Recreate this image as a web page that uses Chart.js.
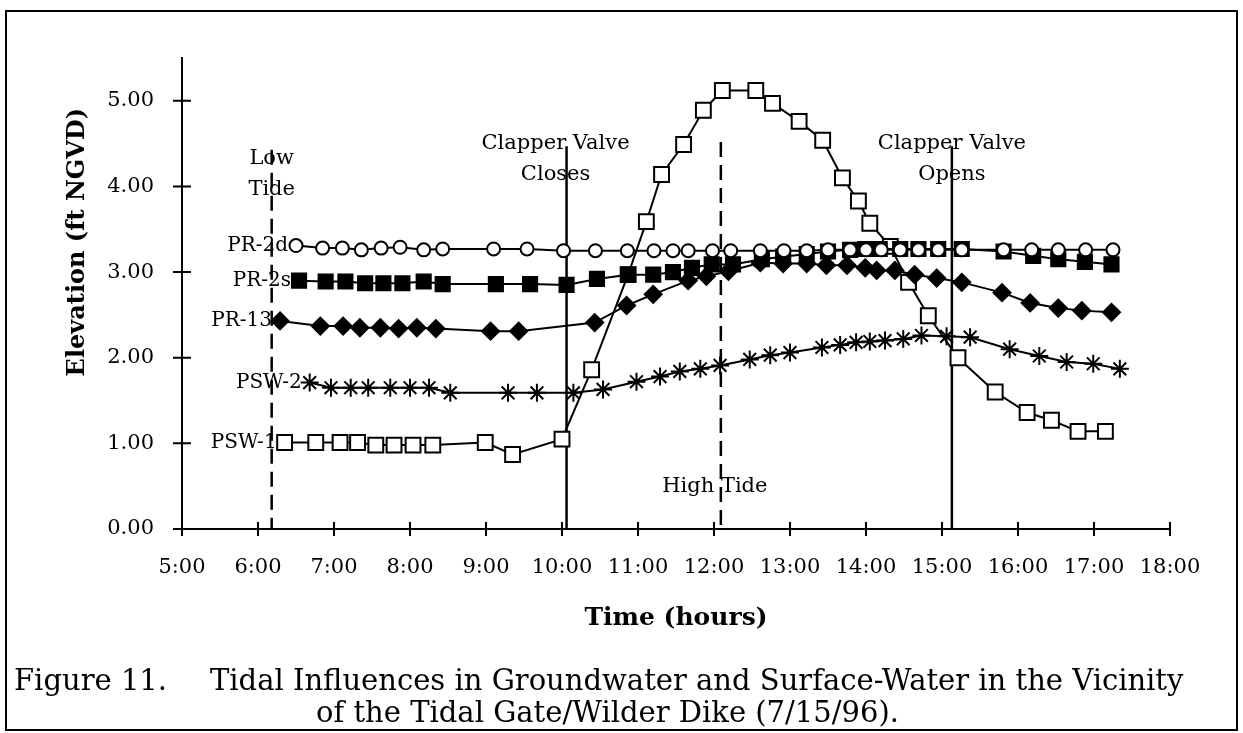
<!DOCTYPE html>
<html>
<head>
<meta charset="utf-8">
<script src="https://cdn.jsdelivr.net/npm/chart.js@4/dist/chart.umd.min.js"></script>
<style>
    html, body { margin: 0; padding: 0; background: #fff; }
    #wrap { position: relative; width: 1243px; height: 733px; overflow: hidden; }
    #frame { position: absolute; left: 5px; top: 10px; width: 1233px; height: 721px; border: 2px solid #000; box-sizing: border-box; }
    #chart { position: absolute; left: 0; top: 0; }
    .cap { position: absolute; font-family: "DejaVu Serif"; font-size: 29px; line-height: 34px; color: #000; white-space: nowrap; }
</style>
</head>
<body>
<div id="wrap">
    <div id="frame"></div>
    <canvas id="chart" width="1243" height="733"></canvas>
    <div class="cap" style="left:14px; top:663px;">Figure 11.</div>
    <div class="cap" style="left:210px; top:663px;">Tidal Influences in Groundwater and Surface-Water in the Vicinity</div>
    <div class="cap" style="left:0; width:1215px; text-align:center; top:695px;">of the Tidal Gate/Wilder Dike (7/15/96).</div>
</div>
<script>
// Write your Javascript code.
// times are decimal hours, elevations in ft NGVD
var pr2dTimes = [6.50, 6.85, 7.11, 7.36, 7.62, 7.87, 8.18, 8.43, 9.10, 9.54, 10.02, 10.44, 10.86, 11.21, 11.46, 11.66, 11.98, 12.22, 12.61, 12.92, 13.22, 13.50, 13.79, 14.00, 14.20, 14.45, 14.69, 14.95, 15.26, 15.81, 16.18, 16.53, 16.89, 17.25];
var pr2dElev = [3.31, 3.28, 3.28, 3.26, 3.28, 3.29, 3.26, 3.27, 3.27, 3.27, 3.25, 3.25, 3.25, 3.25, 3.25, 3.25, 3.25, 3.25, 3.25, 3.25, 3.25, 3.26, 3.26, 3.26, 3.26, 3.26, 3.26, 3.26, 3.26, 3.26, 3.26, 3.26, 3.26, 3.26];

var pr2sTimes = [6.54, 6.89, 7.15, 7.41, 7.65, 7.90, 8.18, 8.43, 9.13, 9.58, 10.06, 10.46, 10.87, 11.20, 11.46, 11.71, 11.97, 12.25, 12.63, 12.91, 13.22, 13.50, 13.79, 13.99, 14.18, 14.45, 14.69, 14.95, 15.26, 15.81, 16.20, 16.53, 16.88, 17.23];
var pr2sElev = [2.90, 2.89, 2.89, 2.87, 2.87, 2.87, 2.89, 2.86, 2.86, 2.86, 2.85, 2.92, 2.97, 2.97, 3.00, 3.05, 3.09, 3.09, 3.15, 3.18, 3.21, 3.24, 3.26, 3.27, 3.27, 3.27, 3.27, 3.27, 3.27, 3.24, 3.19, 3.15, 3.12, 3.09];

var pr13Times = [6.29, 6.82, 7.12, 7.34, 7.61, 7.85, 8.09, 8.34, 9.06, 9.43, 10.43, 10.85, 11.20, 11.66, 11.90, 12.19, 12.61, 12.91, 13.22, 13.48, 13.75, 13.99, 14.14, 14.38, 14.64, 14.93, 15.26, 15.79, 16.16, 16.53, 16.84, 17.23];
var pr13Elev = [2.43, 2.37, 2.37, 2.35, 2.35, 2.34, 2.35, 2.34, 2.31, 2.31, 2.41, 2.61, 2.74, 2.90, 2.95, 3.01, 3.11, 3.10, 3.10, 3.08, 3.08, 3.05, 3.02, 3.02, 2.97, 2.93, 2.88, 2.76, 2.64, 2.58, 2.55, 2.53];

var psw2Times = [6.68, 6.96, 7.22, 7.45, 7.74, 8.00, 8.25, 8.53, 9.29, 9.67, 10.15, 10.54, 10.98, 11.29, 11.55, 11.82, 12.08, 12.47, 12.74, 13.00, 13.42, 13.66, 13.87, 14.05, 14.25, 14.49, 14.73, 15.06, 15.37, 15.89, 16.28, 16.64, 16.99, 17.34];
var psw2Elev = [1.71, 1.65, 1.65, 1.65, 1.65, 1.65, 1.65, 1.59, 1.59, 1.59, 1.59, 1.63, 1.72, 1.78, 1.84, 1.87, 1.91, 1.98, 2.03, 2.06, 2.12, 2.15, 2.18, 2.19, 2.20, 2.22, 2.26, 2.25, 2.24, 2.10, 2.02, 1.95, 1.93, 1.87];

var psw1Times = [6.35, 6.76, 7.08, 7.31, 7.55, 7.79, 8.04, 8.30, 8.99, 9.35, 10.00, 10.39, 10.87, 11.11, 11.31, 11.60, 11.86, 12.11, 12.55, 12.77, 13.12, 13.43, 13.69, 13.90, 14.05, 14.32, 14.56, 14.82, 15.21, 15.70, 16.12, 16.44, 16.79, 17.15];
var psw1Elev = [1.01, 1.01, 1.01, 1.01, 0.98, 0.98, 0.98, 0.98, 1.01, 0.87, 1.05, 1.86, 2.97, 3.59, 4.14, 4.49, 4.89, 5.12, 5.12, 4.97, 4.76, 4.54, 4.10, 3.83, 3.57, 3.30, 2.88, 2.49, 2.00, 1.60, 1.36, 1.27, 1.14, 1.14];

var seriesNames = ['PR-2d', 'PR-2s', 'PR-13', 'PSW-2', 'PSW-1'];
var hourTicks = [5, 6, 7, 8, 9, 10, 11, 12, 13, 14, 15, 16, 17, 18];
var elevTicks = [0, 1, 2, 3, 4, 5];
var yTitle = 'Elevation (ft NGVD)';

// events marked with vertical lines
var eventTimes = [6.18, 10.06, 12.09, 15.13];
var eventTops = [4.43, 4.47, 4.52, 4.47];
var eventDashed = [true, false, true, false];
var eventLabels = [['Low', 'Tide'], ['Clapper Valve', 'Closes'], ['High Tide'], ['Clapper Valve', 'Opens']];
var eventLabelY = [4.33, 4.50, 0.49, 4.50];
var eventLabelDx = [0, -11, -6, 0];

function pts(t, v) {
    return t.map(function (x, i) { return { x: x, y: v[i] }; });
}

function series(label, t, v, style, radius, fill) {
    return {
        label: label,
        data: pts(t, v),
        borderColor: '#000',
        borderWidth: 2,
        pointStyle: style,
        pointRadius: radius,
        pointBorderWidth: 2,
        pointBackgroundColor: fill,
        pointBorderColor: '#000',
        fill: false,
        tension: 0
    };
}

var overlay = {
    id: 'overlay',
    beforeDatasetsDraw: function (chart) {
        var ctx = chart.ctx, xs = chart.scales.x, ys = chart.scales.y;
        ctx.save();
        ctx.strokeStyle = '#000';
        ctx.lineWidth = 2.5;
        for (var i = 0; i < eventTimes.length; i++) {
            var px = xs.getPixelForValue(eventTimes[i]);
            ctx.setLineDash(eventDashed[i] ? [15, 8] : []);
            ctx.beginPath();
            ctx.moveTo(px, ys.getPixelForValue(eventTops[i]));
            ctx.lineTo(px, ys.getPixelForValue(0));
            ctx.stroke();
        }
        ctx.restore();
    },
    afterDatasetsDraw: function (chart) {
        var ctx = chart.ctx, xs = chart.scales.x, ys = chart.scales.y;
        var a = chart.chartArea;
        ctx.save();
        ctx.strokeStyle = '#000';
        ctx.lineWidth = 2;
        // tick marks crossing the axes
        ctx.beginPath();
        hourTicks.forEach(function (h) {
            var px = xs.getPixelForValue(h);
            ctx.moveTo(px, a.bottom - 7);
            ctx.lineTo(px, a.bottom + 7);
        });
        elevTicks.forEach(function (e) {
            var py = ys.getPixelForValue(e);
            ctx.moveTo(a.left - 9, py);
            ctx.lineTo(a.left + 9, py);
        });
        ctx.stroke();

        ctx.fillStyle = '#000';
        ctx.font = '21px "DejaVu Serif"';
        ctx.textAlign = 'center';
        ctx.textBaseline = 'middle';
        for (var i = 0; i < eventLabels.length; i++) {
            var cx = xs.getPixelForValue(eventTimes[i]) + eventLabelDx[i];
            var cy = ys.getPixelForValue(eventLabelY[i]);
            eventLabels[i].forEach(function (line, k) {
                ctx.fillText(line, cx, cy + k * 31);
            });
        }

        // series names next to their first point
        ctx.font = '20px "DejaVu Serif"';
        ctx.textAlign = 'right';
        chart.data.datasets.forEach(function (ds, i) {
            var p = ds.data[0];
            ctx.fillText(seriesNames[i], xs.getPixelForValue(p.x) - 8, ys.getPixelForValue(p.y));
        });

        // y axis title, sits above the middle of the axis like the original
        ctx.save();
        ctx.translate(78, ys.getPixelForValue(3.35));
        ctx.rotate(-Math.PI / 2);
        ctx.textAlign = 'center';
        ctx.font = 'bold 24px "DejaVu Serif"';
        ctx.fillText(yTitle, 0, 0);
        ctx.restore();
        ctx.restore();
    }
};

window.onload = function () {
    Chart.defaults.font.family = '"DejaVu Serif"';
    Chart.defaults.color = '#000';
    var ctx = document.getElementById('chart').getContext('2d');
    new Chart(ctx, {
        type: 'line',
        data: {
            datasets: [
                series(seriesNames[0], pr2dTimes, pr2dElev, 'circle', 6.5, '#fff'),
                series(seriesNames[1], pr2sTimes, pr2sElev, 'rect', 10, '#000'),
                series(seriesNames[2], pr13Times, pr13Elev, 'rectRot', 8.5, '#000'),
                series(seriesNames[3], psw2Times, psw2Elev, 'star', 9, '#000'),
                series(seriesNames[4], psw1Times, psw1Elev, 'rect', 10.5, '#fff')
            ]
        },
        options: {
            responsive: false,
            animation: false,
            layout: { padding: { top: 58, right: 73, bottom: 0, left: 0 } },
            plugins: {
                legend: { display: false },
                tooltip: { enabled: false }
            },
            scales: {
                x: {
                    type: 'linear',
                    min: 5,
                    max: 18,
                    afterBuildTicks: function (s) {
                        s.ticks = hourTicks.map(function (h) { return { value: h }; });
                    },
                    ticks: {
                        padding: 18,
                        font: { size: 21 },
                        callback: function (v) { return v + ':00'; }
                    },
                    grid: { display: false },
                    border: { display: true, color: '#000', width: 2 },
                    title: {
                        display: true,
                        text: 'Time (hours)',
                        font: { size: 25, weight: 'bold' },
                        padding: { top: 0, bottom: 100 }
                    },
                    afterFit: function (s) { s.height = 204; }
                },
                y: {
                    min: 0,
                    max: 5.5,
                    afterBuildTicks: function (s) {
                        s.ticks = elevTicks.map(function (e) { return { value: e }; });
                    },
                    ticks: {
                        padding: 20,
                        font: { size: 21 },
                        callback: function (v) { return v.toFixed(2); }
                    },
                    grid: { display: false },
                    border: { display: true, color: '#000', width: 2 },
                    afterFit: function (s) { s.width = 182; }
                }
            }
        },
        plugins: [overlay]
    });
};
</script>
</body>
</html>
